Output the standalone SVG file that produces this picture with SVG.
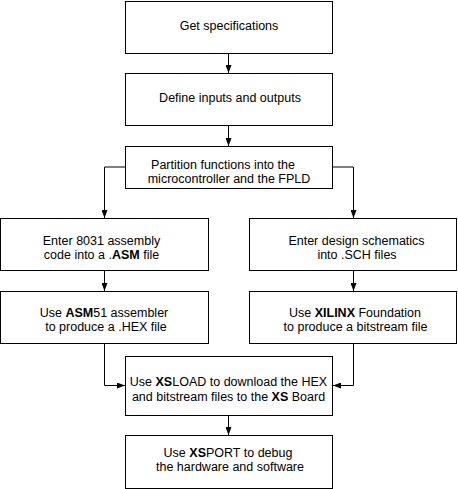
<svg xmlns="http://www.w3.org/2000/svg" width="458" height="489" viewBox="0 0 458 489">
<style>
.box{fill:#fff;stroke:#000;stroke-width:1}
.t{font-family:"Liberation Sans",Arial,sans-serif;font-size:12.5px;fill:#000;text-anchor:middle}
.b{font-weight:bold}
.c{fill:none;stroke:#000;stroke-width:1}
</style>
<defs>
<marker id="ah" viewBox="0 0 8 6" refX="8" refY="3" markerWidth="8" markerHeight="6" markerUnits="userSpaceOnUse" orient="auto">
<path d="M0,0 L8,3 L0,6 Z" fill="#000"/>
</marker>
</defs>
<rect width="458" height="489" fill="#fff"/>
<g id="connectors">
<line class="c" x1="228.5" y1="53.5" x2="228.5" y2="73" marker-end="url(#ah)"/>
<line class="c" x1="228.5" y1="125.5" x2="228.5" y2="146" marker-end="url(#ah)"/>
<polyline class="c" points="125.5,167 104.5,167 104.5,218" marker-end="url(#ah)"/>
<polyline class="c" points="332.5,167 353.5,167 353.5,218" marker-end="url(#ah)"/>
<line class="c" x1="104.5" y1="270.5" x2="104.5" y2="291" marker-end="url(#ah)"/>
<line class="c" x1="353.5" y1="270.5" x2="353.5" y2="291" marker-end="url(#ah)"/>
<polyline class="c" points="104.5,343.5 104.5,385.5 125,385.5" marker-end="url(#ah)"/>
<polyline class="c" points="353.5,343.5 353.5,385.5 333,385.5" marker-end="url(#ah)"/>
<line class="c" x1="228.5" y1="415.5" x2="228.5" y2="435" marker-end="url(#ah)"/>
</g>
<g id="n1">
<rect class="box" x="125.5" y="1.5" width="207" height="52"/>
<text class="t" x="229" y="29.5">Get specifications</text>
</g>
<g id="n2">
<rect class="box" x="125.5" y="73.5" width="207" height="52"/>
<text class="t" x="230" y="101.7">Define inputs and outputs</text>
</g>
<g id="n3">
<rect class="box" x="125.5" y="146.5" width="207" height="42"/>
<text class="t" x="223" y="168.7">Partition functions into the</text>
<text class="t" x="229" y="183.3">microcontroller and the FPLD</text>
</g>
<g id="n4">
<rect class="box" x="0.5" y="218.5" width="208" height="52"/>
<text class="t" x="101.5" y="245.3">Enter 8031 assembly</text>
<text class="t" x="101.5" y="259">code into a .<tspan class="b">ASM</tspan> file</text>
</g>
<g id="n5">
<rect class="box" x="249.5" y="218.5" width="207" height="52"/>
<text class="t" x="356.5" y="245.3">Enter design schematics</text>
<text class="t" x="357" y="259">into .SCH files</text>
</g>
<g id="n6">
<rect class="box" x="0.5" y="291.5" width="208" height="52"/>
<text class="t" x="104" y="317.3">Use <tspan class="b">ASM</tspan>51 assembler</text>
<text class="t" x="106" y="331">to produce a .HEX  file</text>
</g>
<g id="n7">
<rect class="box" x="249.5" y="291.5" width="207" height="52"/>
<text class="t" x="355" y="317.3">Use <tspan class="b">XILINX</tspan> Foundation</text>
<text class="t" x="355.5" y="331">to produce a bitstream file</text>
</g>
<g id="n8">
<rect class="box" x="125.5" y="356.5" width="207" height="59"/>
<text class="t" x="228.5" y="386">Use <tspan class="b">XS</tspan>LOAD to download the HEX</text>
<text class="t" x="228.5" y="400.7">and bitstream files to the <tspan class="b">XS</tspan> Board</text>
</g>
<g id="n9">
<rect class="box" x="125.5" y="435.5" width="207" height="53"/>
<text class="t" x="228" y="457.3">Use <tspan class="b">XS</tspan>PORT to debug</text>
<text class="t" x="230" y="471">the hardware and software</text>
</g>
</svg>
